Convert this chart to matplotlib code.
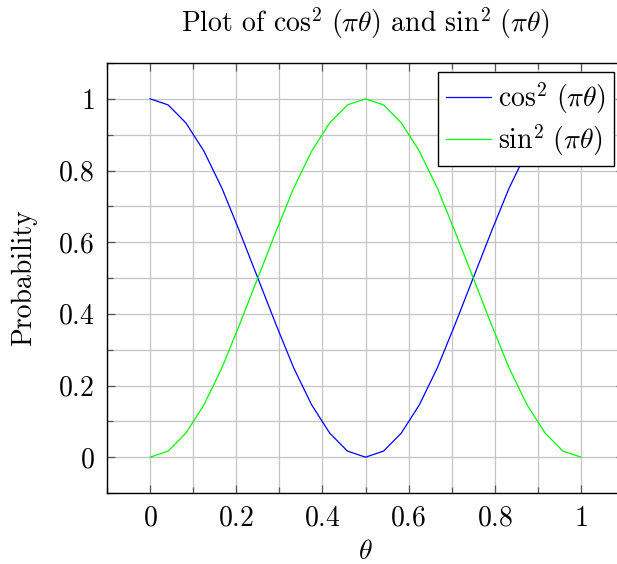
import matplotlib
matplotlib.use("Agg")
import matplotlib.pyplot as plt
from matplotlib.ticker import MultipleLocator, FuncFormatter

theta = [0.0, 0.042, 0.083, 0.125, 0.167, 0.208, 0.25, 0.292, 0.333, 0.375, 0.417, 0.458, 0.5,
         0.542, 0.583, 0.625, 0.667, 0.708, 0.75, 0.792, 0.833, 0.875, 0.917, 0.958, 1.0]
cos2 = [1.0, 0.983, 0.933, 0.854, 0.75, 0.629, 0.5, 0.371, 0.25, 0.146, 0.067, 0.017, 0.0,
        0.017, 0.067, 0.146, 0.25, 0.371, 0.5, 0.629, 0.75, 0.854, 0.933, 0.983, 1.0]
sin2 = [0.0, 0.017, 0.067, 0.146, 0.25, 0.371, 0.5, 0.629, 0.75, 0.854, 0.933, 0.983, 1.0,
        0.983, 0.933, 0.854, 0.75, 0.629, 0.5, 0.371, 0.25, 0.146, 0.067, 0.017, 0.0]
xticks = [0, 0.2, 0.4, 0.6, 0.8, 1]
yticks = [0, 0.2, 0.4, 0.6, 0.8, 1]

plt.rcParams['font.family'] = 'serif'
plt.rcParams['font.serif'] = ['cmr10', 'DejaVu Serif']
plt.rcParams['mathtext.fontset'] = 'cm'
plt.rcParams['axes.unicode_minus'] = False

FS = 20
W, H = 617, 564
fig = plt.figure(figsize=(W / 100, H / 100), dpi=100)
ax = fig.add_axes([107 / W, 1 - 493 / H, (624 - 107) / W, (493 - 63) / H])

ax.plot(theta, cos2, color=(0, 0, 1), lw=0.9, label=r'$\cos^2\,(\pi\theta)$')
ax.plot(theta, sin2, color=(0, 1, 0), lw=0.9, label=r'$\sin^2\,(\pi\theta)$')

ax.set_xlim(-0.1, 1.1)
ax.set_ylim(-0.1, 1.1)
ax.set_xticks(xticks)
ax.set_yticks(yticks)
ax.xaxis.set_minor_locator(MultipleLocator(0.1))
ax.yaxis.set_minor_locator(MultipleLocator(0.1))

def fmt(v, pos):
    s = ('%g' % round(v, 3))
    return '$' + s + '$'
ax.xaxis.set_major_formatter(FuncFormatter(fmt))
ax.yaxis.set_major_formatter(FuncFormatter(fmt))

ax.grid(True, which='both', color='#c4c4c4', lw=0.9)
ax.set_axisbelow(True)
ax.tick_params(which='both', direction='in', top=True, right=True, color='#555555')
ax.tick_params(which='major', length=6, width=0.9, labelsize=FS, pad=9)
ax.tick_params(which='minor', length=4, width=0.9)
for s in ax.spines.values():
    s.set_linewidth(1.0)

ax.set_title(r'Plot of $\cos^2\,(\pi\theta)$ and $\sin^2\,(\pi\theta)$',
             fontsize=FS, x=(365 - 107) / (624 - 107), pad=22)
ax.set_xlabel(r'$\theta$', fontsize=FS, labelpad=5)
ax.set_ylabel('Probability', fontsize=FS, labelpad=15)

leg = ax.legend(loc='upper right', bbox_to_anchor=(614 / W, 1 - 72 / H),
                bbox_transform=fig.transFigure, fontsize=FS, fancybox=False,
                edgecolor='black', framealpha=1, borderaxespad=0,
                handlelength=1.6, handletextpad=0.25, labelspacing=0.22, borderpad=0.3)
leg.get_frame().set_linewidth(1.0)

fig.savefig('out.png', dpi=100)
